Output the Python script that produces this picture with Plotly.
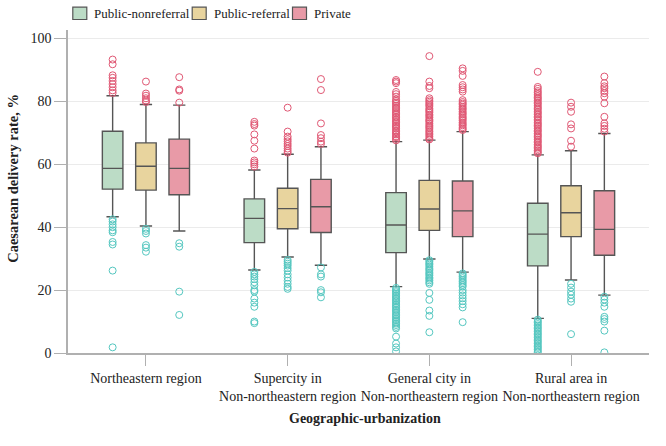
import plotly.graph_objects as go

regions = ["Northeastern region",
           "Supercity in<br>Non-northeastern region",
           "General city in<br>Non-northeastern region",
           "Rural area in<br>Non-northeastern region"]
groups = ["Public-nonreferral", "Public-referral", "Private"]

# box statistics, one value per region
nonref_q1 = [52.1, 35.1, 31.9, 27.7]
nonref_med = [58.7, 42.8, 40.7, 37.8]
nonref_q3 = [70.5, 49.0, 51.0, 47.6]
nonref_lo = [43.3, 26.4, 21.1, 11.0]
nonref_hi = [81.8, 58.2, 67.2, 63.0]

ref_q1 = [51.8, 39.5, 39.0, 37.0]
ref_med = [59.4, 45.9, 45.8, 44.6]
ref_q3 = [66.8, 52.4, 54.9, 53.2]
ref_lo = [40.4, 30.5, 29.9, 23.2]
ref_hi = [79.0, 63.2, 67.7, 64.3]

priv_q1 = [50.3, 38.3, 37.0, 31.1]
priv_med = [58.7, 46.5, 45.2, 39.3]
priv_q3 = [68.0, 55.2, 54.7, 51.6]
priv_lo = [38.8, 27.9, 25.7, 18.4]
priv_hi = [78.8, 65.6, 70.4, 69.8]

# outliers above the upper whisker
nonref_out_hi = [
    [93.3, 91.8, 88.3, 87.5, 86.5, 85.5, 84.5, 83.5, 82.7],
    [73.5, 72.8, 72.3, 69.5, 67.5, 65.0, 61.2, 60.6, 60.0, 59.3],
    [86.8, 86.3, 85.8, 83.0, 82.3, 81.5, 80.6, 80.1, 79.6, 79.2, 78.6, 78.1, 77.7,
     77.2, 76.6, 76.2, 75.7, 75.1, 74.8, 74.2, 73.7, 73.3, 72.8, 72.2, 71.9, 71.4,
     70.8, 70.4, 69.9, 69.5, 68.9, 68.6, 68.1, 67.6],
    [89.4, 84.6, 84.0, 83.3, 82.8, 82.3, 81.7, 81.2, 80.8, 80.3, 79.7, 79.3, 78.8,
     78.2, 77.8, 77.3, 76.7, 76.3, 75.8, 75.2, 74.9, 74.3, 73.8, 73.2, 72.8, 72.3,
     71.9, 71.3, 70.8, 70.4, 69.8, 69.3, 68.9, 68.4, 67.8, 67.3, 66.9, 66.3, 65.8,
     65.4, 64.9, 64.4, 63.9, 63.5],
]
ref_out_hi = [
    [86.3, 82.5, 81.8, 81.0, 80.3, 79.8],
    [78.0, 70.4, 68.8, 68.0, 67.3, 66.5, 65.8, 65.0, 64.3, 63.7],
    [94.4, 86.3, 84.9, 84.2, 81.0, 80.4, 79.9, 79.4, 78.9, 78.5, 77.8, 77.3, 76.9,
     76.4, 75.8, 75.4, 74.9, 74.3, 73.9, 73.5, 72.9, 72.4, 71.9, 71.5, 70.9, 70.4,
     69.9, 69.4, 68.9, 68.3, 67.9],
    [79.6, 78.3, 76.7, 72.7, 71.4, 67.5, 65.6],
]
priv_out_hi = [
    [87.7, 83.8, 83.4, 79.6],
    [87.1, 83.6, 73.0, 69.3, 68.3, 67.2, 66.5],
    [90.5, 89.7, 88.1, 85.2, 84.5, 83.8, 83.1, 80.4, 79.8, 79.3, 78.9, 78.3, 77.8,
     77.4, 76.8, 76.3, 75.9, 75.3, 74.8, 74.4, 73.9, 73.3, 72.8, 72.4, 71.8, 71.3,
     70.9],
    [87.9, 85.8, 84.8, 84.2, 83.3, 82.6, 81.5, 79.4, 75.1, 73.0, 72.2, 71.3, 70.4],
]

# outliers below the lower whisker
nonref_out_lo = [
    [42.5, 41.8, 40.9, 40.0, 39.0, 38.4, 35.3, 34.5, 26.2, 1.8],
    [25.8, 25.0, 24.3, 23.5, 22.5, 21.5, 20.0, 19.5, 17.3, 16.0, 14.7, 10.0, 9.5],
    [20.7, 20.2, 19.7, 19.3, 18.8, 18.2, 17.8, 17.3, 16.8, 16.4, 15.9, 15.3, 14.9,
     14.4, 13.8, 13.4, 12.9, 12.3, 11.9, 11.4, 10.8, 10.4, 9.9, 9.4, 8.9, 8.3, 7.8,
     5.2, 3.0, 1.8, 0.5],
    [10.6, 10.1, 9.7, 9.2, 8.7, 8.2, 7.8, 7.3, 6.8, 6.3, 5.9, 5.4, 4.9, 4.4, 3.9,
     3.5, 3.0, 2.5, 2.0, 1.6, 1.1, 0.6, 0.2],
]
ref_out_lo = [
    [39.5, 38.8, 38.0, 34.3, 33.5, 32.2],
    [29.6, 29.0, 28.4, 27.8, 27.0, 26.2, 25.0, 24.0, 23.0, 22.0, 21.0, 20.4],
    [29.5, 29.0, 28.5, 28.1, 27.6, 27.0, 26.6, 26.1, 25.5, 25.1, 24.6, 24.0, 23.6,
     23.1, 22.5, 22.0, 19.1, 16.9, 13.5, 11.8, 6.6],
    [22.0, 20.8, 19.5, 18.5, 17.3, 16.3, 6.0],
]
priv_out_lo = [
    [34.9, 33.8, 19.5, 12.1],
    [27.2, 25.0, 24.3, 20.0, 19.3, 17.7],
    [25.3, 24.8, 24.3, 23.8, 23.2, 22.7, 22.2, 21.6, 21.1, 20.0, 19.2, 18.3, 17.4,
     16.5, 15.5, 14.5, 9.8],
    [17.9, 17.0, 16.0, 14.7, 11.5, 10.8, 10.0, 7.1, 0.2],
]

fills = ["#bcdcc6", "#e8d49e", "#e89aa7"]
hi_color = "#e05874"
lo_color = "#55c7c0"
offsets = [-0.235, 0.0, 0.235]

stats = [
    (nonref_q1, nonref_med, nonref_q3, nonref_lo, nonref_hi, nonref_out_hi, nonref_out_lo),
    (ref_q1, ref_med, ref_q3, ref_lo, ref_hi, ref_out_hi, ref_out_lo),
    (priv_q1, priv_med, priv_q3, priv_lo, priv_hi, priv_out_hi, priv_out_lo),
]

W, H = 666, 446
# plot area in pixels
L, R, T, B = 68, 649, 30, 353


def px(x):
    return (x - L) / (R - L)


def py(y):
    return (B - y) / (B - T)


fig = go.Figure()

for g, (q1, med, q3, lo, hi, out_hi, out_lo) in enumerate(stats):
    xs = [i + offsets[g] for i in range(len(regions))]
    fig.add_trace(go.Box(
        name=groups[g], x=xs, q1=q1, median=med, q3=q3,
        lowerfence=lo, upperfence=hi, width=0.145, whiskerwidth=0.6,
        boxpoints=False, fillcolor=fills[g],
        line=dict(color="#555555", width=1.4),
        hoverinfo="skip", showlegend=False,
    ))

for g, (q1, med, q3, lo, hi, out_hi, out_lo) in enumerate(stats):
    for i in range(len(regions)):
        for vals, col in ((out_hi[i], hi_color), (out_lo[i], lo_color)):
            fig.add_trace(go.Scatter(
                x=[i + offsets[g]] * len(vals), y=vals, mode="markers",
                marker=dict(symbol="circle-open", size=7, color=col,
                            line=dict(width=1)),
                showlegend=False, hoverinfo="skip",
            ))

# legend drawn by hand: swatch + label
swatch_left = [72.8, 192.2, 292.5]
label_left = [91.7, 211.7, 311.7]
shapes = []
annotations = []
for g in range(3):
    shapes.append(dict(
        type="rect", xref="paper", yref="paper",
        x0=px(swatch_left[g]), x1=px(swatch_left[g] + 14),
        y0=py(19.5), y1=py(7.2),
        fillcolor=fills[g], line=dict(color="#555555", width=1.2),
    ))
    annotations.append(dict(
        text=groups[g], xref="paper", yref="paper",
        x=px(label_left[g]), y=py(13.3), xanchor="left", yanchor="middle",
        showarrow=False, font=dict(size=13),
    ))

annotations.append(dict(
    text="<b>Geographic-urbanization</b>", xref="paper", yref="paper",
    x=px(364.7), y=py(418.3), xanchor="center", yanchor="middle",
    showarrow=False, font=dict(size=14),
))
annotations.append(dict(
    text="<b>Caesarean delivery rate, %</b>", xref="paper", yref="paper",
    x=px(13.5), y=py(178.3), xanchor="center", yanchor="middle",
    textangle=-90, showarrow=False, font=dict(size=14.5),
))

fig.update_layout(
    width=W, height=H,
    margin=dict(l=L, r=W - R, t=T, b=H - B, autoexpand=False),
    paper_bgcolor="white", plot_bgcolor="white",
    font=dict(family="Liberation Serif", size=14, color="#222222"),
    boxmode="overlay",
    showlegend=False,
    shapes=shapes,
    annotations=annotations,
    xaxis=dict(
        range=[-0.55, 3.55], tickvals=[0, 1, 2, 3], ticktext=regions,
        showgrid=False, zeroline=False, showline=True, linecolor="#b0b0b0",
        linewidth=1.5, ticks="outside", ticklen=11, tickcolor="#b0b0b0",
    ),
    yaxis=dict(
        range=[0, 102.7], tickvals=[0, 20, 40, 60, 80, 100],
        showgrid=True, gridcolor="#ebebeb", zeroline=False, showline=True,
        linecolor="#b0b0b0", linewidth=1.5, ticks="outside", ticklen=12,
        tickcolor="#b0b0b0",
    ),
)

# drop the default 8px page margin so the figure fills the window exactly
fig.write_html("out.html",
               config={"displayModeBar": False},
               post_script="document.body.style.margin='0';"
                           "document.body.style.overflow='hidden';")
